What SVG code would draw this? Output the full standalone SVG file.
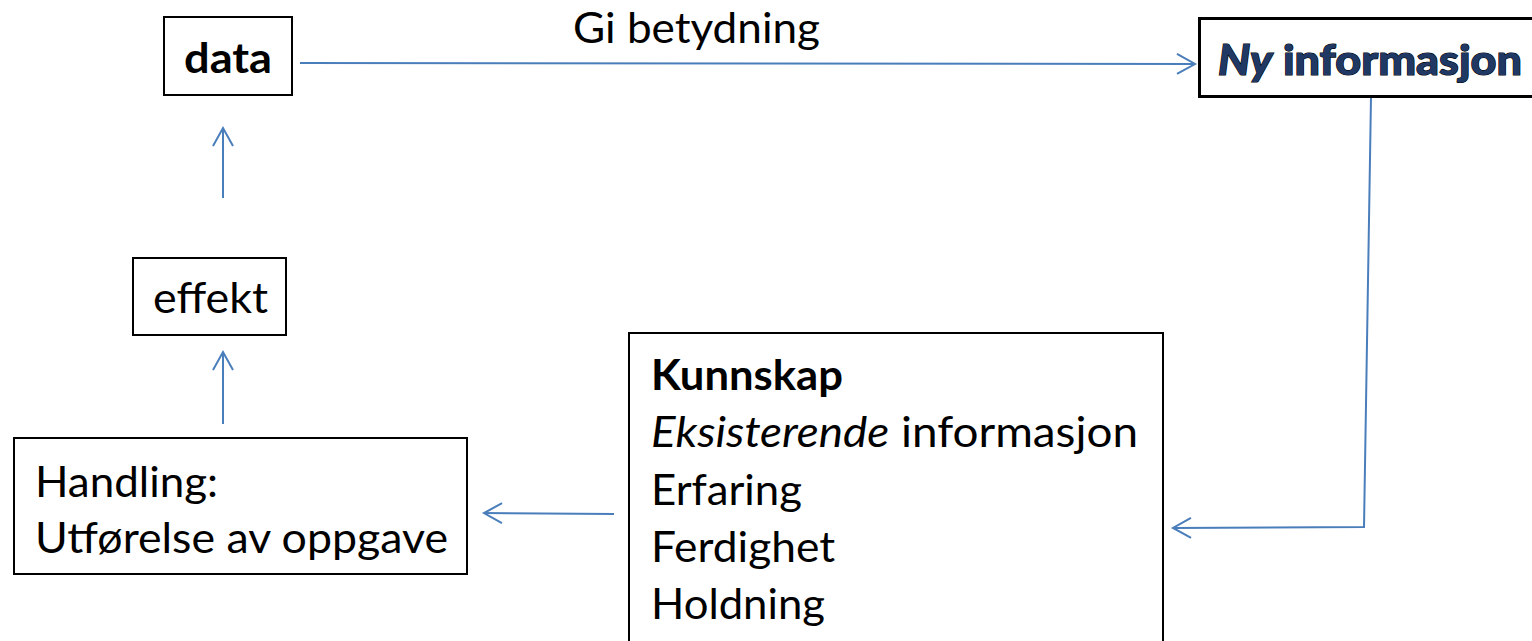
<svg xmlns="http://www.w3.org/2000/svg" width="1532" height="641" viewBox="0 0 1532 641">
<style>
.box{fill:#fff;stroke:#000;stroke-width:2}
.t{font-family:Lato,"Open Sans",sans-serif;font-size:42px;fill:#000}
.b{font-weight:bold}
.i{font-style:italic}
.c{fill:none;stroke:#4a7ebb;stroke-width:2}
.ny{font-family:Lato,"Open Sans",sans-serif;font-size:42px;font-weight:900;fill:#1f3864;stroke:#000;stroke-width:1.2;paint-order:stroke}
</style>
<defs>
<marker id="a" markerWidth="24" markerHeight="24" refX="20" refY="12" orient="auto" markerUnits="userSpaceOnUse">
<path d="M2,2 L20,12 L2,22" fill="none" stroke="#4a7ebb" stroke-width="2"/>
</marker>
</defs>
<rect width="1532" height="641" fill="#fff"/>
<g id="connectors">
<line class="c" x1="300" y1="63" x2="1195" y2="64" marker-end="url(#a)"/>
<polyline class="c" points="1371,97 1364,527 1173,528" marker-end="url(#a)"/>
<line class="c" x1="614" y1="514" x2="484" y2="513" marker-end="url(#a)"/>
<line class="c" x1="223" y1="424" x2="223" y2="352" marker-end="url(#a)"/>
<line class="c" x1="223" y1="198" x2="223" y2="128" marker-end="url(#a)"/>
<text class="t" x="573" y="43" textLength="247" lengthAdjust="spacingAndGlyphs">Gi betydning</text>
</g>
<g id="data">
<rect class="box" x="164" y="17" width="128" height="78"/>
<text class="t b" x="184" y="73" textLength="88" lengthAdjust="spacingAndGlyphs">data</text>
</g>
<g id="ny">
<rect x="1199.5" y="18.5" width="340" height="78" fill="#fff" stroke="#000" stroke-width="3"/>
<text class="ny" x="1218" y="75" textLength="304" lengthAdjust="spacingAndGlyphs"><tspan class="i">Ny</tspan> informasjon</text>
</g>
<g id="effekt">
<rect class="box" x="133" y="258" width="153" height="77"/>
<text class="t" x="153" y="313" textLength="115" lengthAdjust="spacingAndGlyphs">effekt</text>
</g>
<g id="handling">
<rect class="box" x="14" y="438" width="453" height="136"/>
<text class="t" x="35" y="497" textLength="183" lengthAdjust="spacingAndGlyphs">Handling:</text>
<text class="t" x="35" y="553" textLength="413" lengthAdjust="spacingAndGlyphs">Utførelse av oppgave</text>
</g>
<g id="kunnskap">
<rect class="box" x="629" y="333" width="534" height="320"/>
<text class="t b" x="651" y="390" textLength="192" lengthAdjust="spacingAndGlyphs">Kunnskap</text>
<text class="t" x="651" y="447" textLength="487" lengthAdjust="spacingAndGlyphs"><tspan class="i">Eksisterende</tspan> informasjon</text>
<text class="t" x="651" y="505" textLength="151" lengthAdjust="spacingAndGlyphs">Erfaring</text>
<text class="t" x="651" y="562" textLength="184" lengthAdjust="spacingAndGlyphs">Ferdighet</text>
<text class="t" x="651" y="619" textLength="174" lengthAdjust="spacingAndGlyphs">Holdning</text>
</g>
</svg>
